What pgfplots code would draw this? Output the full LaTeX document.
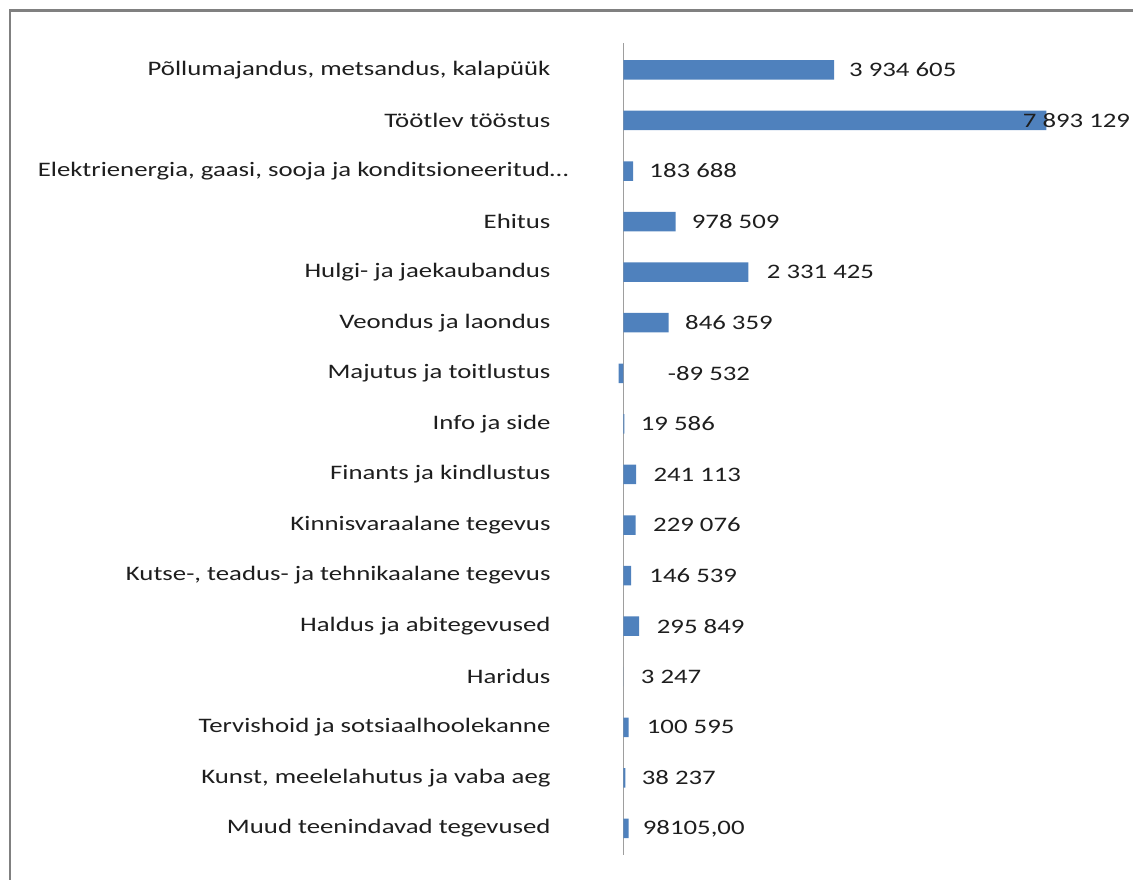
\documentclass[border=0pt]{standalone}
\usepackage{fontspec}
\setmainfont[FakeStretch=1.30]{Carlito}
\usepackage{pgfplots}
\pgfplotsset{compat=1.18}
\definecolor{barblue}{RGB}{79,129,189}
\definecolor{txt}{RGB}{30,30,30}
\newcommand{\lblfont}{\fontsize{20.6}{24}\selectfont}
\begin{document}
\begin{tikzpicture}
\begin{axis}[
  at={(569.7pt,835.7pt)}, anchor=north west,
  scale only axis,
  width=562.8pt, height=811.7pt,
  xmin=-1000000, xmax=9500000,
  ymin=-0.525, ymax=15.525,
  y dir=reverse,
  axis line style={draw=none},
  tick style={draw=none},
  xtick=\empty,
  ytick={0,...,15},
  yticklabels={
    {Põllumajandus, metsandus, kalapüük},
    {Töötlev tööstus},
    {Elektrienergia, gaasi, sooja ja konditsioneeritud…\hspace*{-18pt}},
    {Ehitus},
    {Hulgi- ja jaekaubandus},
    {Veondus ja laondus},
    {Majutus ja toitlustus},
    {Info ja side},
    {Finants ja kindlustus},
    {Kinnisvaraalane tegevus},
    {Kutse-, teadus- ja tehnikaalane tegevus},
    {Haldus ja abitegevused},
    {Haridus},
    {Tervishoid ja sotsiaalhoolekanne},
    {Kunst, meelelahutus ja vaba aeg},
    {Muud teenindavad tegevused}},
  yticklabel style={font=\lblfont, text=txt, inner sep=0pt, anchor=east, xshift=-19pt},
  extra x ticks={0},
  extra x tick labels={},
  extra x tick style={grid=major, major grid style={draw=black!38, line width=1.3pt}},
  clip=false,
]
\addplot[xbar, bar width=19.5pt, fill=barblue, draw=none] coordinates {
  (3934605,0) (7893129,1) (183688,2) (978509,3) (2331425,4) (846359,5)
  (-89532,6) (19586,7) (241113,8) (229076,9) (146539,10) (295849,11)
  (3247,12) (100595,13) (38237,14) (98105,15)
};
\addplot[draw=none, mark=none, nodes near coords, point meta=explicit symbolic,
  nodes near coords style={anchor=west, inner sep=0pt, font=\lblfont, text=txt}] coordinates {
  (4211000,0) [3 934 605]
  (7451000,1) [7 893 129]
  (485000,2) [183 688]
  (1276000,3) [978 509]
  (2675000,4) [2 331 425]
  (1151000,5) [846 359]
  (828000,6) [-89 532]
  (325000,7) [19 586]
  (560000,8) [241 113]
  (554000,9) [229 076]
  (485000,10) [146 539]
  (623000,11) [295 849]
  (325000,12) [3 247]
  (437000,13) [100 595]
  (343000,14) [38 237]
  (362000,15) [98105,00]
};
\end{axis}
\draw[black!50, line width=2.4pt] (9.8pt,-20pt) -- (9.8pt,868.5pt) -- (1150pt,868.5pt);
\pgfresetboundingbox
\useasboundingbox (0,0) rectangle (1133pt,879pt);
\end{tikzpicture}
\end{document}
